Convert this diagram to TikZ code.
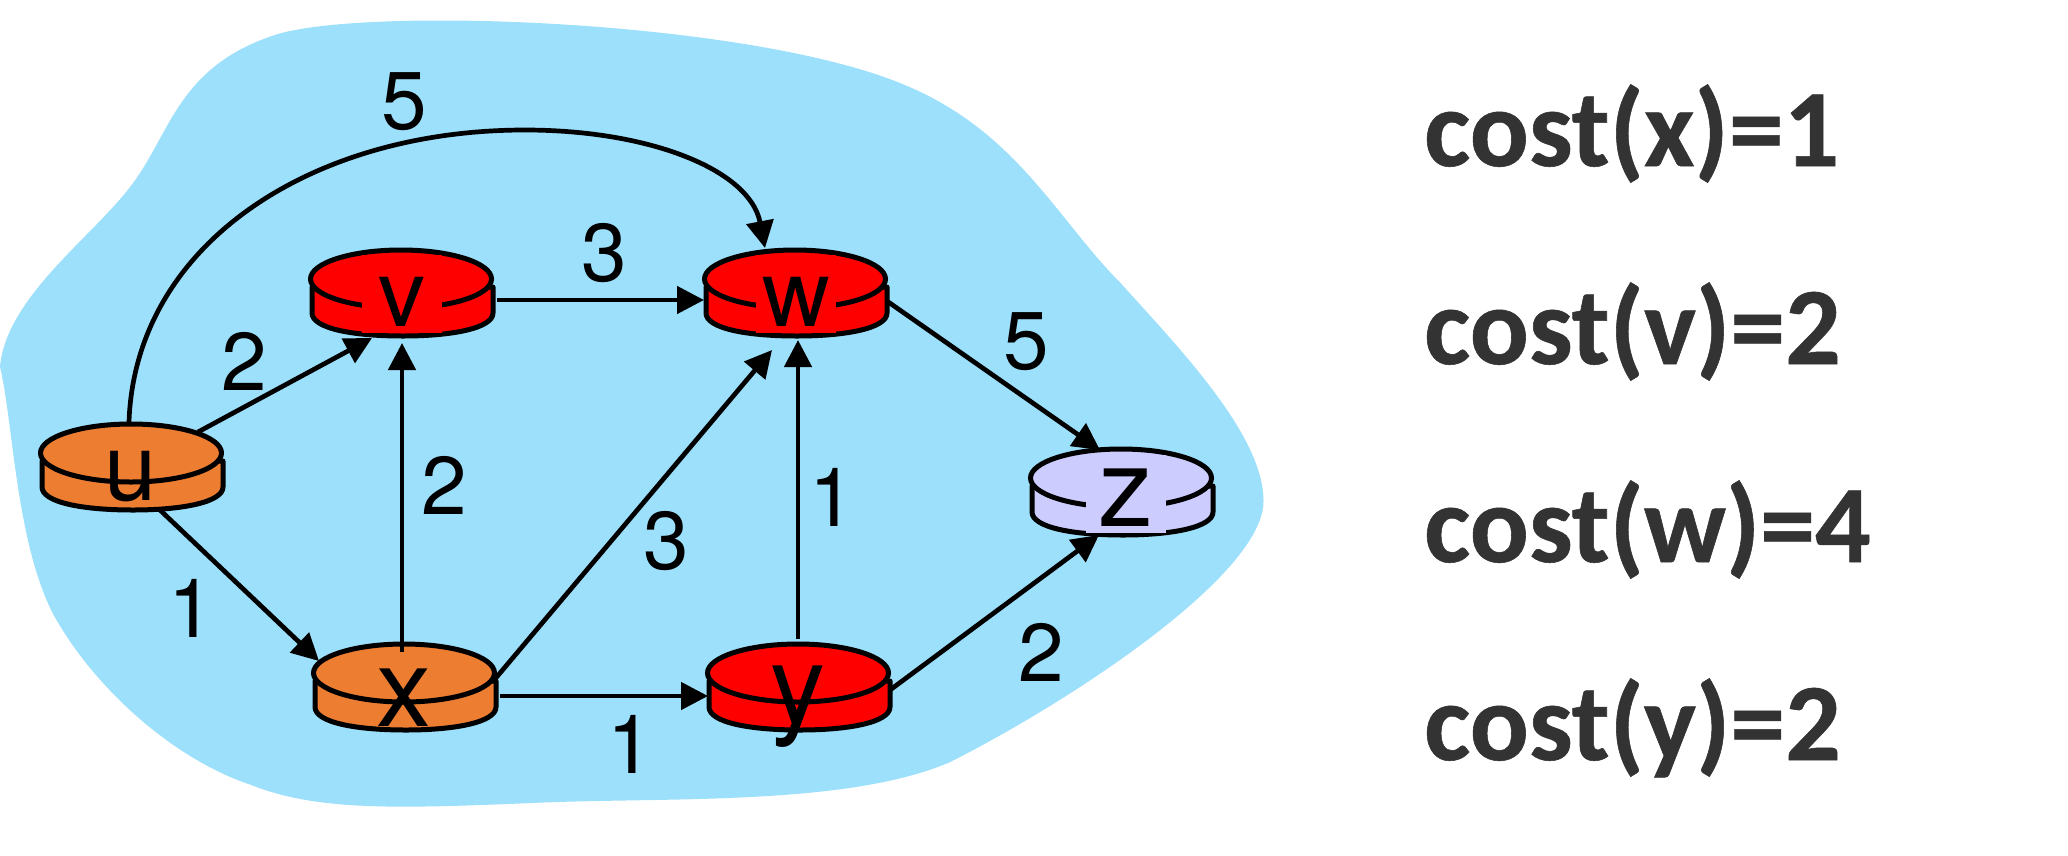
\documentclass[tikz,border=0pt]{standalone}
\usepackage{fontspec}
\setmainfont{TeX Gyre Heros}
\newfontfamily\costfont[FakeBold=0.5]{Carlito Bold}
\usetikzlibrary{arrows.meta,calc,shapes.geometric,backgrounds}
\definecolor{cloud}{HTML}{9DE0FB}
\definecolor{routerorange}{HTML}{ED7D31}
\definecolor{routerred}{HTML}{FF0000}
\definecolor{routerlilac}{HTML}{CCCCFF}
\definecolor{costgrey}{HTML}{333333}
\tikzset{
  link/.style={line width=4.7pt,-{Triangle[length=27pt,width=27pt]},shorten >=0pt},
  rtop/.style={ellipse,draw=black,line width=5pt,inner sep=0pt,outer sep=0pt,minimum width=181pt,minimum height=58pt},
  rbody/.style={draw=black,line width=5pt,line join=round},
  smallname/.style={font=\fontsize{94}{94}\selectfont,inner sep=0pt,anchor=base},
  bigname/.style={font=\fontsize{110}{110}\selectfont,inner sep=0pt,anchor=base},
  weight/.style={font=\fontsize{82}{82}\selectfont,inner sep=0pt,anchor=center},
  costlabel/.style={font=\costfont\fontsize{110}{110}\selectfont,text=costgrey,inner sep=0pt,anchor=base west},
  mask/.style={text height=71pt,text depth=7pt}
}
\newcommand{\routerdisk}[4]{%
  \begin{scope}[shift={(#2,#3)}]
    \path[rbody,fill=#4] (-89,8) -- (-89,34) .. controls (-89,49) and (-50,57) .. (2,57)
      .. controls (52,57) and (92,49) .. (92,34) -- (92,8) -- cycle;
  \end{scope}
  \node[rtop,fill=#4] (#1) at (#2,#3) {};
}
\begin{document}
\begin{tikzpicture}[x=1pt,y=-1pt]
\useasboundingbox (0,0) rectangle (2068,855);
\begin{scope}[on background layer]
  \fill[white] (0,0) rectangle (2068,855);
  \begin{scope}[x=1.3189pt,y=-1.3189pt]
    \fill[cloud] (0,278)
      .. controls (5,225) and (70,180) .. (100,140)
      .. controls (130,100) and (135,50) .. (210,26)
      .. controls (280,5) and (560,15) .. (680,62)
      .. controls (770,97) and (800,165) .. (850,215)
      .. controls (895,265) and (958,330) .. (958,380)
      .. controls (958,435) and (815,530) .. (720,578)
      .. controls (640,612) and (500,604) .. (400,609)
      .. controls (300,613) and (240,615) .. (190,595)
      .. controls (130,575) and (70,520) .. (40,465)
      .. controls (12,410) and (10,320) .. (0,278) -- cycle;
  \end{scope}
\end{scope}
\routerdisk{u}{131}{453}{routerorange}
\routerdisk{v}{401}{279}{routerred}
\routerdisk{w}{795}{279}{routerred}
\routerdisk{x}{404}{673}{routerorange}
\routerdisk{y}{798}{673}{routerred}
\routerdisk{z}{1121}{478}{routerlilac}
\node[smallname] (lu) at (131,500) {u};
\node[smallname,mask,fill=routerred] (lv) at (402,326) {\makebox[80pt]{v}};
\node[smallname,mask,fill=routerred] (lw) at (796,326) {\makebox[80pt]{w}};
\node[bigname] (lx) at (404,726) {x};
\node[bigname] (ly) at (798,723) {y};
\node[bigname,mask,fill=routerlilac] (lz) at (1126,526) {\makebox[80pt]{z}};
\begin{scope}[on background layer]
  \draw[link] ($(w)+(89,20)$) -- ($(z)+(-21,-28)$);
\end{scope}
\draw[link] ($(u)+(-2,-31)$) .. controls (135,245) and (310,130) .. (525,130)
  .. controls (650,130) and (750,170) .. ($(w)+(-30,-31)$);
\draw[link] ($(u)+(67,-21)$) -- ($(v)+(-29,59)$);
\draw[link] ($(u)+(29,57)$) -- ($(x)+(-85,-12)$);
\draw[link] ($(x)+(-2,-21)$) -- ($(v)+(1,64)$);
\draw[link] ($(v)+(96,21)$) -- ($(w)+(-91,21)$);
\draw[link] ($(x)+(91,6)$) -- ($(w)+(-23,71)$);
\draw[link] ($(x)+(96,23)$) -- ($(y)+(-90,23)$);
\draw[link] ($(y)+(0,-34)$) -- ($(w)+(3,61)$);
\draw[link] ($(y)+(92,17)$) -- ($(z)+(-22,57)$);
\node[weight] (w1) at (404,102) {5};
\node[weight] (w2) at (244,361) {2};
\node[weight] (w3) at (604,253) {3};
\node[weight] (w4) at (1026,342) {5};
\node[weight] (w5) at (444,485) {2};
\node[weight] (w6) at (832,497) {1};
\node[weight] (w7) at (666,541) {3};
\node[weight] (w8) at (191,608) {1};
\node[weight] (w9) at (1041,652) {2};
\node[weight] (w10) at (630,744) {1};
\node[costlabel] (c1) at (1424,166) {cost(x)=1};
\node[costlabel] (c2) at (1424,364) {cost(v)=2};
\node[costlabel] (c3) at (1424,562) {cost(w)=4};
\node[costlabel] (c4) at (1424,760) {cost(y)=2};
\end{tikzpicture}
\end{document}
